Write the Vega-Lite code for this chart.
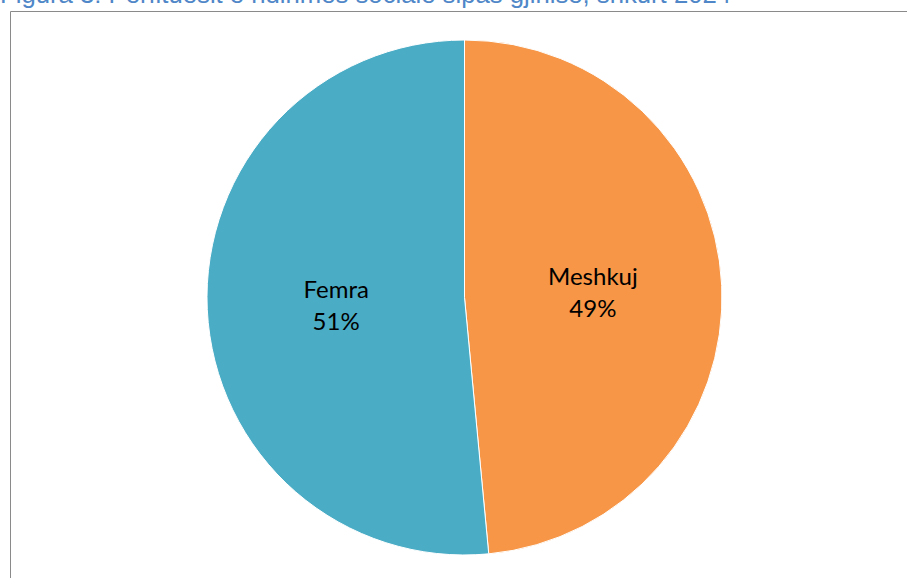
{
  "$schema": "https://vega.github.io/schema/vega-lite/v6.json",
  "autosize": "none",
  "padding": {"left": 10, "top": 11, "right": -12, "bottom": -6},
  "width": 909,
  "height": 573,
  "background": "white",
  "view": {"stroke": "#8a8a8a", "strokeWidth": 1, "fill": "white"},
  "title": {
    "text": "Figura 3: Përfituesit e ndihmës sociale sipas gjinisë, shkurt 2024",
    "anchor": "start",
    "frame": "group",
    "orient": "top",
    "baseline": "alphabetic",
    "offset": 0,
    "dy": 18,
    "dx": -10,
    "font": "Liberation Sans",
    "fontSize": 25.7,
    "fontWeight": "normal",
    "color": "#4F87C8"
  },
  "data": {
    "values": [
      {"gjinia": "Meshkuj", "vlera": 48.5, "perqindja": "49%"},
      {"gjinia": "Femra", "vlera": 51.5, "perqindja": "51%"}
    ]
  },
  "encoding": {
    "theta": {"field": "vlera", "type": "quantitative", "stack": true},
    "order": {"field": "gjinia", "sort": "descending"}
  },
  "layer": [
    {
      "mark": {"type": "arc", "outerRadius": 257.5, "stroke": "white", "strokeWidth": 1},
      "encoding": {
        "color": {
          "field": "gjinia",
          "type": "nominal",
          "scale": {"domain": ["Meshkuj", "Femra"], "range": ["#F79646", "#4BACC6"]},
          "legend": null
        }
      }
    },
    {
      "mark": {"type": "text", "radius": 128.5, "dy": -13, "font": "Lato", "fontSize": 24, "color": "black"},
      "encoding": {"text": {"field": "gjinia"}}
    },
    {
      "mark": {"type": "text", "radius": 128.5, "dy": 19, "font": "Lato", "fontSize": 24, "color": "black"},
      "encoding": {"text": {"field": "perqindja"}}
    }
  ]
}
